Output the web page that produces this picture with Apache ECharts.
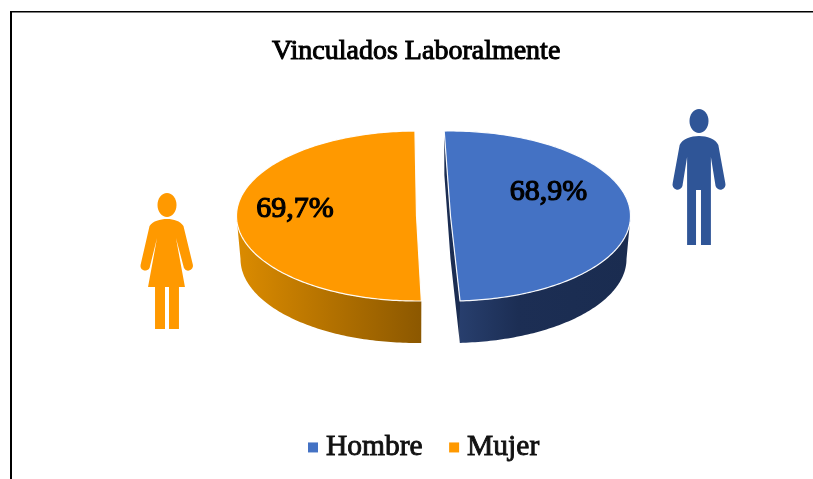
<!DOCTYPE html>
<html><head><meta charset="utf-8">
<style>html,body{margin:0;padding:0;background:#fff}#c{width:813px;height:479px}</style>
<script src="https://cdn.jsdelivr.net/npm/echarts@6/dist/echarts.min.js"></script>
</head><body><div id="c"></div>
<script>
const categories = ['Hombre', 'Mujer'];
const values = [68.9, 69.7];
const colors = ['#4472C4', '#FF9900'];
const titleText = 'Vinculados Laboralmente';

const FONT = '"Liberation Serif","Times New Roman",serif';
const total = values.reduce((a, b) => a + b, 0);
const shapes = [
  {cx: 450.5, rot: -2, lx: 548.5, ly: 192, wall: [[0, '#283F6E'], [0.35, '#1C2E54'], [1, '#1A2C50']], gx: [458, 630]},
  {cx: 416.5, rot: -0.5, lx: 295, ly: 209.5, wall: [[0, '#DB8B00'], [1, '#8C5800']], gx: [238, 421]}
];
const TOP = {cy: 216, a: 180, b: 85};
const LOW = {cy: 259, a: 176, b: 84};

function pt(cx, e, deg) {
  const r = deg * Math.PI / 180;
  return [cx + e.a * Math.sin(r), e.cy - e.b * Math.cos(r)];
}
function arc(cx, e, from, to) {
  const out = [], n = Math.max(2, Math.ceil(Math.abs(to - from)));
  for (let i = 0; i <= n; i++) out.push(pt(cx, e, from + (to - from) * i / n));
  return out;
}
function slice(index) {
  return function (params, api) {
    const v = api.value(0);
    let acc = 0;
    for (let i = 0; i < index; i++) acc += values[i];
    const s = shapes[index];
    const from = acc / total * 360 + s.rot;
    const to = from + v / total * 360;
    const children = [];
    const wallFill = new echarts.graphic.LinearGradient(s.gx[0], 0, s.gx[1], 0,
      s.wall.map(w => ({offset: w[0], color: w[1]})), true);
    const wFrom = Math.max(from, 90), wTo = Math.min(to, 270);
    children.push({type: 'polygon',
      shape: {points: arc(s.cx, TOP, wFrom, wTo).concat(arc(s.cx, LOW, wTo, wFrom))},
      style: {fill: wallFill}});
    if (index === 0) {
      children.push({type: 'polygon',
        shape: {points: [pt(s.cx, TOP, from), pt(s.cx, LOW, from), [s.cx, LOW.cy], pt(s.cx, LOW, to), pt(s.cx, TOP, to), [s.cx, TOP.cy]]},
        style: {fill: '#1B2D52'}});
    }
    children.push({type: 'polygon',
      shape: {points: [[s.cx, TOP.cy]].concat(arc(s.cx, TOP, from, to))},
      style: {fill: colors[index], stroke: 'rgba(255,255,255,0.95)', lineWidth: 1.2}});
    children.push({type: 'text', x: s.lx, y: s.ly,
      style: {text: v.toFixed(1).replace('.', ',') + '%', fill: '#000', font: '30px ' + FONT,
        align: 'center', verticalAlign: 'middle', stroke: '#000', lineWidth: 1.2}});
    return {type: 'group', children};
  };
}

const man = 'M679.5 145 C682 139 691 136 699 136 C707 136 716 139 718.5 145 L725.5 183 A5 5 0 0 1 715.7 186 L711 157 L711 245 L701 245 L701 190 L696 190 L696 245 L687 245 L687 157 L682.3 186 A5 5 0 0 1 672.5 183 Z';
const woman = 'M149.5 226 C153 221 160 219 167 219 C174 219 180 221 183.5 226 L193 265 A4.8 4.8 0 0 1 184 268 L176 238 L185 287 L179 287 L179 329 L169 329 L169 287 L165 287 L165 329 L155 329 L155 287 L148 287 L157 238 L149.5 268 A4.8 4.8 0 0 1 140.5 265 Z';
function iconItem() {
  return {type: 'group', children: [
    {type: 'ellipse', shape: {cx: 699, cy: 121, rx: 9.5, ry: 12}, style: {fill: '#2F5597'}},
    {type: 'path', shape: {pathData: man, layout: 'cover', x: 672.5, y: 136, width: 53, height: 109}, style: {fill: '#2F5597'}},
    {type: 'ellipse', shape: {cx: 167, cy: 205, rx: 9.5, ry: 12}, style: {fill: '#FF9900'}},
    {type: 'path', shape: {pathData: woman, layout: 'cover', x: 140.5, y: 219, width: 52.5, height: 110}, style: {fill: '#FF9900'}}
  ]};
}

const chart = echarts.init(document.getElementById('c'), null, {renderer: 'canvas'});
chart.setOption({
  animation: false,
  backgroundColor: '#fff',
  color: colors,
  title: {text: titleText, left: 267, top: 33,
    textStyle: {fontFamily: FONT, fontSize: 28, fontWeight: 'normal', color: '#000', textBorderColor: '#000', textBorderWidth: 1}},
  legend: {
    data: categories, left: 303, top: 427, itemWidth: 10, itemHeight: 10, itemGap: 26, icon: 'rect',
    textStyle: {fontFamily: FONT, fontSize: 29.5, color: '#111', textBorderColor: '#111', textBorderWidth: 0.9, padding: [0, 0, 0, 3]}
  },
  series: categories.map((name, i) => ({
    type: 'custom', name, coordinateSystem: 'none', data: [values[i]],
    itemStyle: {color: colors[i]}, renderItem: slice(i), silent: true
  })).concat([{type: 'custom', name: 'iconos', coordinateSystem: 'none', data: [0], renderItem: iconItem, silent: true}]),
  graphic: [
    {type: 'rect', shape: {x: 10, y: 11, width: 2, height: 468}, style: {fill: '#000'}, silent: true},
    {type: 'rect', shape: {x: 10, y: 11, width: 803, height: 1.4}, style: {fill: '#000'}, silent: true}
  ]
});
</script></body></html>
